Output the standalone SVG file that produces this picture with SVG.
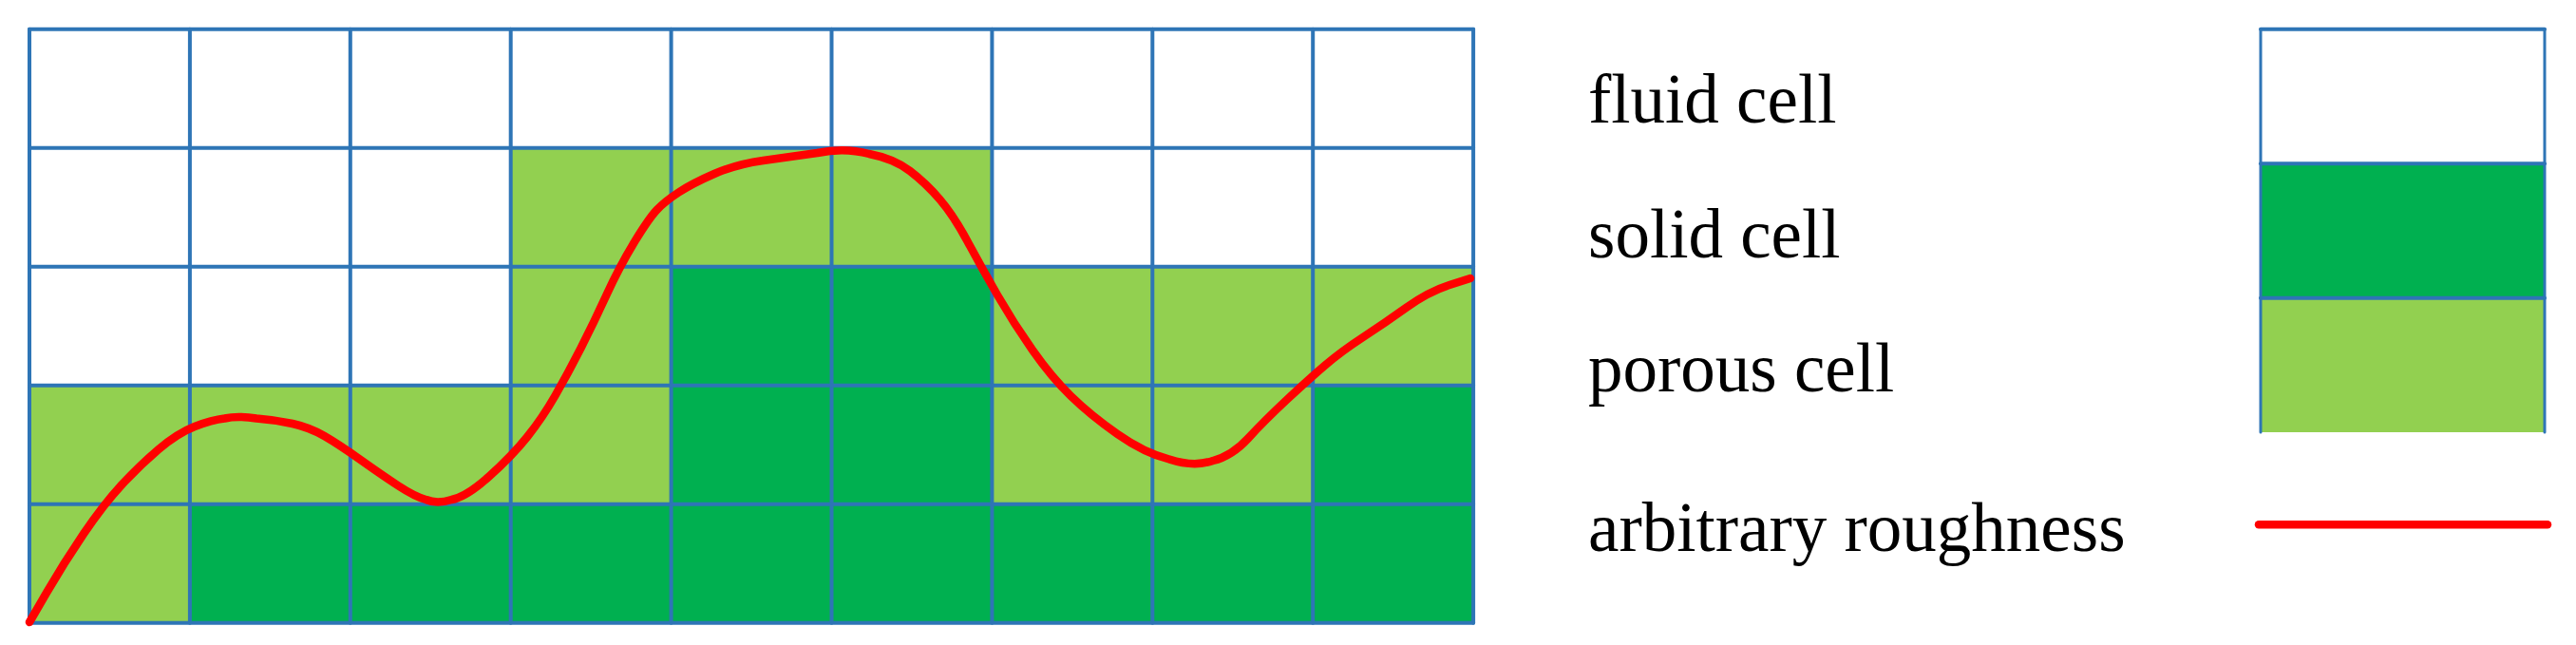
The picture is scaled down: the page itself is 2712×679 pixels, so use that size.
<svg xmlns="http://www.w3.org/2000/svg" width="2712" height="679" viewBox="0 0 2712 679">
<defs>
<style>
.por{fill:#92D050}
.sol{fill:#00B050}
.grid{stroke:#2E75B6;stroke-width:4;fill:none;stroke-linecap:round}
.rough{stroke:#FF0000;stroke-width:8.5;fill:none;stroke-linecap:round;stroke-linejoin:round}
.lbl{font-family:"Liberation Serif","Times New Roman",serif;font-size:73px;fill:#000}
</style>
</defs>
<rect width="2712" height="679" fill="#fff"/>
<g id="cells">
<rect class="por" x="537.7" y="155.7" width="506.7" height="125"/>
<rect class="por" x="537.7" y="280.7" width="168.9" height="125"/>
<rect class="sol" x="706.6" y="280.7" width="337.8" height="125"/>
<rect class="por" x="1044.4" y="280.7" width="506.7" height="125"/>
<rect class="por" x="31" y="405.7" width="675.6" height="125"/>
<rect class="sol" x="706.6" y="405.7" width="337.8" height="125"/>
<rect class="por" x="1044.4" y="405.7" width="337.8" height="125"/>
<rect class="sol" x="1382.2" y="405.7" width="168.9" height="125"/>
<rect class="por" x="31" y="530.7" width="168.9" height="125"/>
<rect class="sol" x="199.9" y="530.7" width="1351.2" height="125"/>
</g>
<g id="grid" class="grid">
<line x1="31" y1="30.7" x2="31" y2="655.7"/>
<line x1="199.9" y1="30.7" x2="199.9" y2="655.7"/>
<line x1="368.8" y1="30.7" x2="368.8" y2="655.7"/>
<line x1="537.7" y1="30.7" x2="537.7" y2="655.7"/>
<line x1="706.6" y1="30.7" x2="706.6" y2="655.7"/>
<line x1="875.5" y1="30.7" x2="875.5" y2="655.7"/>
<line x1="1044.4" y1="30.7" x2="1044.4" y2="655.7"/>
<line x1="1213.3" y1="30.7" x2="1213.3" y2="655.7"/>
<line x1="1382.2" y1="30.7" x2="1382.2" y2="655.7"/>
<line x1="1551.1" y1="30.7" x2="1551.1" y2="655.7"/>
<line x1="31" y1="30.7" x2="1551.1" y2="30.7"/>
<line x1="31" y1="155.7" x2="1551.1" y2="155.7"/>
<line x1="31" y1="280.7" x2="1551.1" y2="280.7"/>
<line x1="31" y1="405.7" x2="1551.1" y2="405.7"/>
<line x1="31" y1="530.7" x2="1551.1" y2="530.7"/>
<line x1="31" y1="655.7" x2="1551.1" y2="655.7"/>
</g>
<g id="roughness">
<path class="rough" d="M31,655 L49,624 Q67,593 88,562 Q109,531 128,510.5 Q147,490 167,473 Q187,456 205,449 Q223,442 236.5,440.5 Q250,437.5 270,440.5 Q290,442 308,446 Q326,450 341.5,459 Q357,468 379.5,484 Q402,500 419.5,511.5 Q437,523 448.5,526 Q460,531 475.5,526 Q491,523 515,501.5 Q539,480 555,460 Q571,440 584.5,416.5 Q598,393 611.5,366.5 Q625,340 638.5,310.5 Q652,281 667.5,255.5 Q683,230 691.5,221 Q700,212 714.5,202.5 Q729,193 752,183 Q775,173 803.5,169 Q832,165 860.5,161 Q889,155 915,162 Q941,167 958,180 Q975,193 989.5,210 Q1004,227 1018.5,254 Q1033,281 1050,310.5 Q1067,340 1087,368.5 Q1107,397 1127.5,417 Q1148,437 1176.5,457 Q1205,477 1231,483.5 Q1257,492 1277,485 Q1297,480 1314,461.5 Q1331,443 1354,421.5 Q1377,400 1394.5,385 Q1412,370 1435,355 Q1458,340 1481,323.5 Q1504,307 1526,300 L1548,293"/>
</g>
<g id="legend-fluid">
<rect x="2380" y="30.7" width="299" height="141.6" fill="#fff"/>
<text class="lbl" x="1672" y="129.3">fluid cell</text>
</g>
<g id="legend-solid">
<rect class="sol" x="2380" y="172.3" width="299" height="141.4"/>
<text class="lbl" x="1672" y="270.7">solid cell</text>
</g>
<g id="legend-porous">
<rect class="por" x="2380" y="313.7" width="299" height="141.3"/>
<text class="lbl" x="1672" y="411.7">porous cell</text>
</g>
<g id="legend-box" class="grid">
<line x1="2380" y1="30.7" x2="2679" y2="30.7"/>
<line x1="2380" y1="172.3" x2="2679" y2="172.3"/>
<line x1="2380" y1="313.7" x2="2679" y2="313.7"/>
<line x1="2380" y1="30.7" x2="2380" y2="455" stroke-width="3"/>
<line x1="2679" y1="30.7" x2="2679" y2="455" stroke-width="3"/>
</g>
<g id="legend-roughness">
<line class="rough" x1="2378" y1="552.3" x2="2682" y2="552.3" stroke-width="8"/>
<text class="lbl" x="1672" y="580">arbitrary roughness</text>
</g>
</svg>
